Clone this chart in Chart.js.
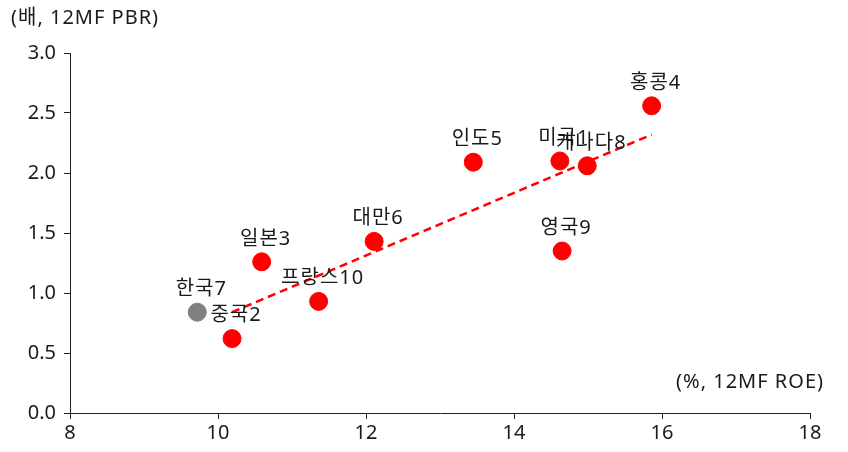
<!DOCTYPE html>
<html>
<head>
<meta charset="utf-8">
<script src="https://cdn.jsdelivr.net/npm/chart.js@4.4.1/dist/chart.umd.min.js"></script>
<style>
  html, body { margin: 0; padding: 0; background: #fff; }
  #wrap { width: 848px; height: 452px; position: relative; }
</style>
</head>
<body>
<div id="wrap"><canvas id="pbrChart" width="848" height="452"></canvas></div>
<script>
// country labels, ROE (x) and PBR (y)
const countries = ['미국1', '중국2', '일본3', '홍콩4', '인도5', '대만6', '한국7', '캐나다8', '영국9', '프랑스10'];
const roe = [14.62, 10.19, 10.59, 15.86, 13.45, 12.11, 9.72, 14.99, 14.65, 11.36];
const pbr = [2.10, 0.62, 1.26, 2.56, 2.09, 1.43, 0.84, 2.06, 1.35, 0.93];
// trend line end points
const trendX = [10.19, 15.86];
const trendY = [0.84, 2.32];
const xTicks = [8, 10, 12, 14, 16, 18];
const yTicks = [0, 0.5, 1.0, 1.5, 2.0, 2.5, 3.0];

const FONT = "'Noto Sans', 'Noto Sans CJK KR', sans-serif";
const TEXT = '#1a1a1a';

const pointColors = countries.map(c => c.startsWith('한국') ? '#808080' : '#ff0000');

// draws country names above the points + axis unit captions
const labelPlugin = {
    id: 'labels',
    afterDatasetsDraw(chart) {
        const ctx = chart.ctx;
        const meta = chart.getDatasetMeta(1);
        ctx.save();
        ctx.letterSpacing = '1px';
        ctx.font = '20px ' + FONT;
        ctx.fillStyle = TEXT;
        ctx.textAlign = 'center';
        ctx.textBaseline = 'middle';
        meta.data.forEach((pt, i) => {
            ctx.fillText(countries[i], pt.x + 4, pt.y - 23);
        });
        ctx.textAlign = 'left';
        ctx.fillText('(배, 12MF PBR)', 11, 18);
        ctx.textAlign = 'right';
        ctx.fillText('(%, 12MF ROE)', 824, 382);
        ctx.restore();
    }
};

const ctx = document.getElementById('pbrChart').getContext('2d');
new Chart(ctx, {
    type: 'scatter',
    data: {
        datasets: [{
            type: 'line',
            data: trendX.map((x, i) => ({ x: x, y: trendY[i] })),
            borderColor: '#ff0000',
            borderWidth: 2.5,
            borderDash: [8, 5],
            pointRadius: 0,
            fill: false
        }, {
            data: roe.map((x, i) => ({ x: x, y: pbr[i] })),
            backgroundColor: pointColors,
            borderColor: pointColors,
            pointRadius: 9,
            pointHoverRadius: 9
        }]
    },
    options: {
        responsive: false,
        animation: false,
        layout: { padding: { top: 53, right: 38, left: 0, bottom: 0 } },
        plugins: {
            legend: { display: false },
            tooltip: { enabled: false }
        },
        scales: {
            x: {
                type: 'linear',
                min: 8,
                max: 18,
                afterBuildTicks: axis => { axis.ticks = xTicks.map(v => ({ value: v })); },
                afterFit: axis => { axis.height = 39; },
                grid: { drawOnChartArea: false, drawTicks: true, tickLength: 6, color: '#222' },
                border: { color: '#222', width: 1 },
                ticks: { color: TEXT, font: { family: FONT, size: 20 }, padding: 2 }
            },
            y: {
                min: 0,
                max: 3,
                afterBuildTicks: axis => { axis.ticks = yTicks.map(v => ({ value: v })); },
                afterFit: axis => { axis.width = 70; },
                grid: { drawOnChartArea: false, drawTicks: true, tickLength: 6, color: '#222' },
                border: { color: '#222', width: 1 },
                ticks: {
                    color: TEXT,
                    font: { family: FONT, size: 20 },
                    padding: 8,
                    callback: v => v.toFixed(1)
                }
            }
        }
    },
    plugins: [labelPlugin]
});
</script>
</body>
</html>
